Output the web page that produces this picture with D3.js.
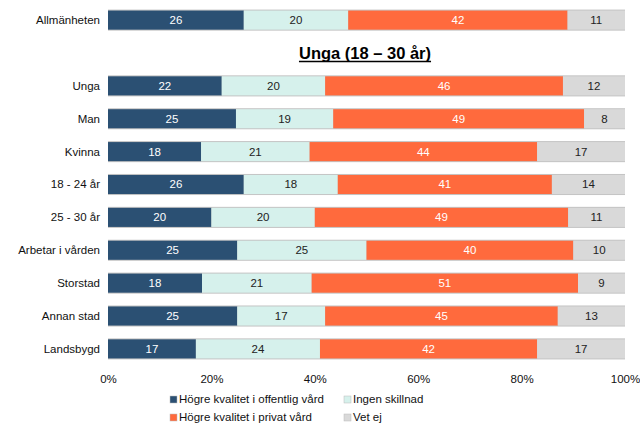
<!DOCTYPE html>
<html>
<head>
<meta charset="utf-8">
<script src="https://cdn.jsdelivr.net/npm/d3@7"></script>
<style>
  body { margin: 0; background: #fff; }
  text { font-family: "Liberation Sans", Arial, sans-serif; }
</style>
</head>
<body>
<div id="chart"></div>
<script>
const categories = ['Allmänheten', '', 'Unga', 'Man', 'Kvinna', '18 - 24 år', '25 - 30 år',
  'Arbetar i vården', 'Storstad', 'Annan stad', 'Landsbygd'];
const seriesNames = ['Högre kvalitet i offentlig vård', 'Ingen skillnad', 'Högre kvalitet i privat vård', 'Vet ej'];
const offentlig = [26, null, 22, 25, 18, 26, 20, 25, 18, 25, 17];
const ingen = [20, null, 20, 19, 21, 18, 20, 25, 21, 17, 24];
const privat = [42, null, 46, 49, 44, 41, 49, 40, 51, 45, 42];
const vetej = [11, null, 12, 8, 17, 14, 11, 10, 9, 13, 17];
const ticks = [0, 20, 40, 60, 80, 100];
const subTitle = 'Unga (18 – 30 år)';

const colors = ['#2b5073', '#d6f1ec', '#ff6a3d', '#d9d9d9'];
const labelColors = ['#fff', '#222', '#fff', '#222'];

const W = 640, H = 428;
const margin = { left: 108, right: 15 };

const rows = categories.map((c, i) => ({
  cat: i, name: c,
  vals: [offentlig[i], ingen[i], privat[i], vetej[i]]
})).filter(r => r.vals[0] != null);

const svg = d3.select('#chart').append('svg')
  .attr('width', W).attr('height', H);

const x = d3.scaleLinear().domain([0, 100]).range([margin.left, W - margin.right]);
const y = d3.scaleBand().domain(d3.range(categories.length)).range([4, 365]).paddingInner(0.42).paddingOuter(0.2);

const g = svg.append('g');
const rowG = g.selectAll('g.row').data(rows).enter().append('g')
  .attr('transform', d => `translate(0,${y(d.cat)})`);

rowG.each(function(d) {
  const sel = d3.select(this);
  const total = d3.sum(d.vals);
  let acc = 0;
  // each row is shown as shares of 100 %
  const segs = d.vals.map((v, k) => {
    const s = { k, v, x0: acc / total * 100, x1: (acc + v) / total * 100 };
    acc += v; return s;
  });
  sel.append('rect')
    .attr('x', x(0)).attr('y', -1)
    .attr('width', x(100) - x(0)).attr('height', y.bandwidth() + 2)
    .attr('fill', '#c4c4c4');
  sel.selectAll('rect.seg').data(segs).enter().append('rect')
    .attr('x', s => x(s.x0)).attr('y', 0)
    .attr('width', s => x(s.x1) - x(s.x0)).attr('height', y.bandwidth())
    .attr('fill', s => colors[s.k]);
  sel.selectAll('text.val').data(segs).enter().append('text')
    .attr('x', s => (x(s.x0) + x(s.x1)) / 2)
    .attr('y', y.bandwidth() / 2 + 4)
    .attr('text-anchor', 'middle').attr('font-size', 11.5)
    .attr('fill', s => labelColors[s.k])
    .text(s => s.v);
  sel.append('text')
    .attr('x', margin.left - 8).attr('y', y.bandwidth() / 2 + 4)
    .attr('text-anchor', 'end').attr('font-size', 11.5).attr('fill', '#111')
    .text(d.name);
});

// subtitle in the empty slot
const ty = y(1) + y.bandwidth() / 2 + 6;
const title = svg.append('text')
  .attr('x', 365).attr('y', ty).attr('text-anchor', 'middle')
  .attr('font-size', 16.5).attr('font-weight', 'bold').attr('fill', '#000')
  .text(subTitle);
const tb = title.node().getBBox();
svg.append('line').attr('x1', tb.x).attr('x2', tb.x + tb.width)
  .attr('y1', ty + 2.5).attr('y2', ty + 2.5).attr('stroke', '#000').attr('stroke-width', 1.4);

// x axis
const axis = svg.append('g').attr('transform', 'translate(0,372)')
  .call(d3.axisBottom(x).tickValues(ticks).tickFormat(d => d + '%').tickSize(0));
axis.select('.domain').remove();
axis.selectAll('text').attr('font-size', 11.5).attr('fill', '#111')
  .attr('font-family', '"Liberation Sans", Arial, sans-serif');

// legend
const legendPos = [[170, 403], [344, 403], [170, 421], [344, 421]];
const leg = svg.append('g').selectAll('g').data(seriesNames).enter().append('g')
  .attr('transform', (d, i) => `translate(${legendPos[i][0]},${legendPos[i][1]})`);
leg.append('rect').attr('x', 0).attr('y', -7).attr('width', 7).attr('height', 7)
  .attr('fill', (d, i) => colors[i]).attr('stroke', '#bbb').attr('stroke-width', 0.5);
leg.append('text').attr('x', 9).attr('y', 0).attr('font-size', 11.5).attr('fill', '#111').text(d => d);
</script>
</body>
</html>
